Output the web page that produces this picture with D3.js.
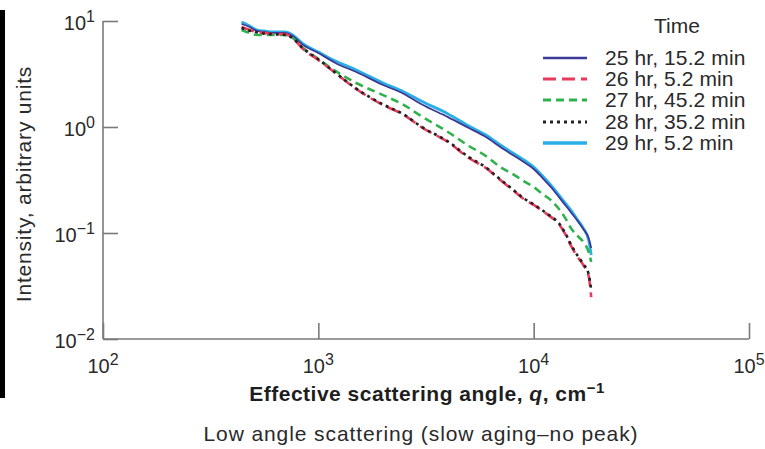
<!DOCTYPE html>
<html><head><meta charset="utf-8">
<script src="https://cdn.jsdelivr.net/npm/d3@7"></script>
<style>
html,body{margin:0;padding:0;background:#fff;}
svg{display:block;font-family:"Liberation Sans",Arial,Helvetica,sans-serif;}
</style></head>
<body><svg id="c" width="765" height="449"></svg>
<script>
// ---- data ----
const qValues = [440,480,520,560,620,700,760,850,1000,1200,1500,2000,2500,3000,4000,5000,6000,7000,8000,9000,10000,11000,12000,13000,14000,15000,16000,17000,18000,18500];
const series25 = [9.37,8.78,8.05,7.88,7.71,7.71,7.22,5.94,4.99,4.02,3.30,2.49,2.05,1.65,1.24,0.978,0.805,0.648,0.544,0.467,0.402,0.330,0.272,0.223,0.184,0.154,0.130,0.109,0.0897,0.0722];
const series26 = [8.78,8.22,7.88,7.71,7.54,7.54,6.91,5.44,4.29,3.23,2.28,1.61,1.30,1.00,0.722,0.510,0.410,0.316,0.254,0.209,0.184,0.161,0.142,0.124,0.0979,0.0738,0.0594,0.0499,0.0393,0.0249];
const series27 = [8.22,7.71,7.38,7.38,7.38,7.38,6.91,5.56,4.38,3.38,2.60,2.00,1.61,1.27,0.897,0.662,0.533,0.419,0.360,0.309,0.272,0.233,0.205,0.172,0.139,0.109,0.0937,0.0823,0.0662,0.0533];
const series28 = [8.6,8.1,7.8,7.6,7.5,7.4,6.9,5.5,4.35,3.25,2.3,1.63,1.31,1.01,0.73,0.52,0.415,0.32,0.258,0.212,0.186,0.163,0.144,0.126,0.100,0.076,0.061,0.051,0.041,0.029];
const series29 = [9.79,8.97,8.22,8.05,7.88,7.88,7.38,6.07,5.10,4.19,3.45,2.60,2.14,1.76,1.33,1.02,0.840,0.676,0.568,0.488,0.419,0.345,0.284,0.233,0.192,0.161,0.133,0.111,0.0859,0.0620];
const seriesNames = ["25 hr, 15.2 min","26 hr, 5.2 min","27 hr, 45.2 min","28 hr, 35.2 min","29 hr, 5.2 min"];
const xTicks = [1e2,1e3,1e4,1e5];
const xTickExp = ["2","3","4","5"];
const yTicks = [1e1,1e0,1e-1,1e-2];
const yTickExp = ["1","0","\u22121","\u22122"];

// ---- styles ----
const styles = {
  "25 hr, 15.2 min": {color:"#3b3a96", width:1.8, dash:null},
  "26 hr, 5.2 min":  {color:"#ea3a5c", width:2.6, dash:"13,6"},
  "27 hr, 45.2 min": {color:"#2fb24c", width:2.6, dash:"8,5"},
  "28 hr, 35.2 min": {color:"#222222", width:2.6, dash:"3,4"},
  "29 hr, 5.2 min":  {color:"#2aaee6", width:2.8, dash:null}
};
const seriesData = {
  "25 hr, 15.2 min": series25,
  "26 hr, 5.2 min": series26,
  "27 hr, 45.2 min": series27,
  "28 hr, 35.2 min": series28,
  "29 hr, 5.2 min": series29
};
const drawOrder = ["29 hr, 5.2 min","25 hr, 15.2 min","27 hr, 45.2 min","26 hr, 5.2 min","28 hr, 35.2 min"];

const svg = d3.select("#c");
const x = d3.scaleLog().domain([1e2,1e5]).range([103,749]);
const y = d3.scaleLog().domain([1e-2,1e1]).range([339,21]);
const axisColor = "#7a7a7a", textColor = "#2a2a2a";

// left black bar
svg.append("rect").attr("x",0).attr("y",10).attr("width",5).attr("height",388).attr("fill","#000");

// axes
const gx = svg.append("g").attr("transform","translate(0,339)")
  .call(d3.axisBottom(x).tickValues(xTicks).tickSize(-16).tickFormat(""));
const gy = svg.append("g").attr("transform","translate(103,0)")
  .call(d3.axisLeft(y).tickValues(yTicks).tickSize(-15).tickFormat(""));
[gx,gy].forEach(g=>{
  g.select(".domain").attr("stroke",axisColor).attr("stroke-width",1.6);
  g.selectAll(".tick line").attr("stroke",axisColor).attr("stroke-width",1.6);
});
gy.select(".domain").attr("d","M0,339V21");
gx.select(".domain").attr("d","M103,0H749");

// tick labels
xTicks.forEach((v,i)=>{
  const t = svg.append("text").attr("x",x(v)).attr("y",373).attr("text-anchor","middle")
    .attr("fill",textColor).style("font-size","20px");
  t.append("tspan").text("10");
  t.append("tspan").attr("dy",-8).style("font-size","16px").text(xTickExp[i]);
});
yTicks.forEach((v,i)=>{
  const t = svg.append("text").attr("x",95).attr("y",y(v)+9).attr("text-anchor","end")
    .attr("fill",textColor).style("font-size","20px");
  t.append("tspan").text("10");
  t.append("tspan").attr("dy",-8).style("font-size","16px").text(yTickExp[i]);
});

// lines
const line = d3.line().x(d=>x(d[0])).y(d=>y(d[1])).curve(d3.curveMonotoneX);
drawOrder.forEach(name=>{
  const s = styles[name];
  const pts = qValues.map((q,i)=>[q, seriesData[name][i]]);
  svg.append("path").datum(pts).attr("d",line).attr("fill","none")
    .attr("stroke",s.color).attr("stroke-width",s.width)
    .attr("stroke-dasharray",s.dash).attr("stroke-linejoin","round");
});

// legend
svg.append("text").attr("x",677).attr("y",33).attr("text-anchor","middle")
  .attr("fill",textColor).style("font-size","21px").text("Time");
const legY = [58,79,100,122,143];
seriesNames.forEach((name,i)=>{
  const s = styles[name];
  svg.append("line").attr("x1",543).attr("x2",587).attr("y1",legY[i]).attr("y2",legY[i])
    .attr("stroke",s.color).attr("stroke-width",s.width+0.6).attr("stroke-dasharray",s.dash);
  svg.append("text").attr("x",605).attr("y",legY[i]+7).attr("fill",textColor)
    .style("font-size","21px").style("letter-spacing","0.1px").text(name);
});

// axis titles
const xt = svg.append("text").attr("x",427).attr("y",401).attr("text-anchor","middle")
  .attr("fill","#1e1e1e").style("font-size","21px").style("font-weight","bold").style("letter-spacing","0.5px");
xt.append("tspan").text("Effective scattering angle, ");
xt.append("tspan").style("font-style","italic").text("q");
xt.append("tspan").text(", cm");
xt.append("tspan").attr("dy",-8).style("font-size","15px").text("\u22121");

svg.append("text").attr("x",421).attr("y",441).attr("text-anchor","middle")
  .attr("fill",textColor).style("font-size","21px").style("letter-spacing","0.9px")
  .text("Low angle scattering (slow aging\u2013no peak)");

svg.append("text").attr("transform","translate(31,184) rotate(-90)").attr("text-anchor","middle")
  .attr("fill",textColor).style("font-size","21px").style("letter-spacing","0.8px")
  .text("Intensity, arbitrary units");
</script></body></html>
